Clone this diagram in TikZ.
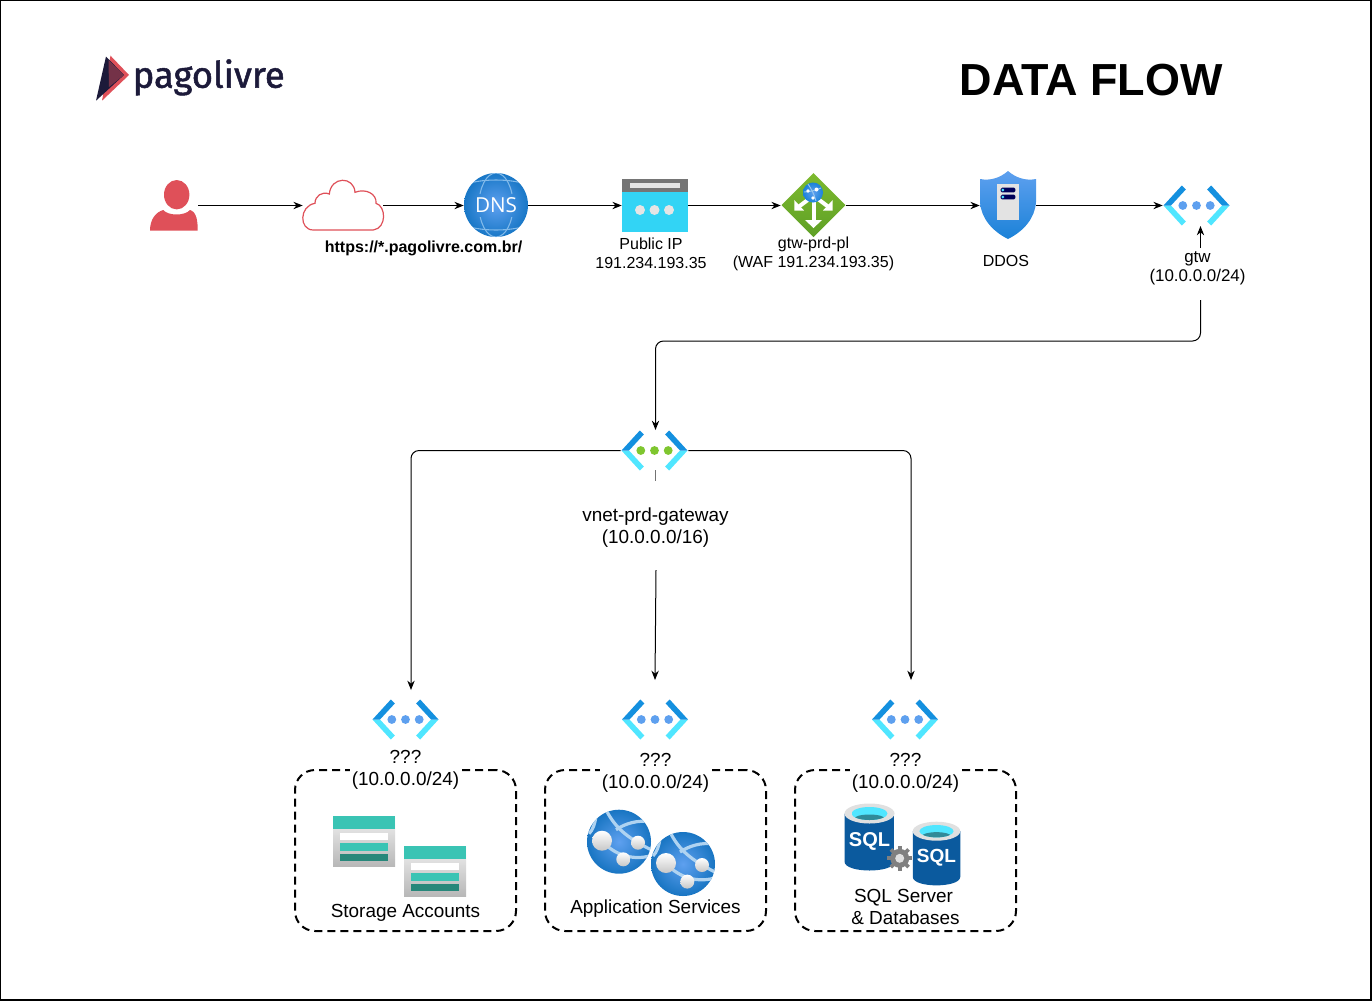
\documentclass[tikz,border=0pt]{standalone}
\usepackage{fontspec}
\setmainfont{Liberation Sans}
\newfontfamily\logofont[FakeBold=1.4]{Fira Sans}
\newfontfamily\dnsfont{Open Sans}
\usetikzlibrary{arrows.meta, shadings}

\definecolor{azdark}{HTML}{1490DF}
\definecolor{azcyan}{HTML}{50E6FF}
\definecolor{azsky}{HTML}{32D4F5}
\definecolor{azdot}{HTML}{5EA0EF}
\definecolor{azgreen}{HTML}{7FC62F}
\definecolor{azblue}{HTML}{1B82D8}
\definecolor{sqlmid}{HTML}{0A78D0}
\definecolor{sqlside}{HTML}{0B5A9E}
\definecolor{wafhigh}{HTML}{7DBA2E}
\definecolor{waflow}{HTML}{5FA026}
\definecolor{redmark}{HTML}{DF5059}
\definecolor{navylogo}{HTML}{1C1A3A}
\definecolor{tealbar}{HTML}{3AC4B4}
\definecolor{tealdark}{HTML}{27877A}

\tikzset{
    flow/.style={draw=black, line width=0.75pt, -{Stealth[length=7pt,width=5.5pt]}},
    iconbox/.style 2 args={inner sep=0pt, minimum width=#1*0.75pt, minimum height=#2*0.75pt},
    subnetbox/.style={iconbox={221}{161}, draw=black, line width=1.5pt, rounded corners=15pt, dash pattern=on 6pt off 3.75pt},
    smalltxt/.style={align=center, inner sep=0pt, font=\fontsize{12}{14.25}\selectfont},
    gtwtxt/.style={align=center, inner sep=0pt, font=\fontsize{12.7}{14.25}\selectfont},
    bigtxt/.style={align=center, inner sep=0pt, font=\fontsize{14.2}{16.5}\selectfont},
    pics/vnet/.style={code={
        \foreach \s in {-1,1} {
            \fill[azcyan] (\s*33,0) -- (\s*14.7,20) -- (\s*10.7,16) -- (\s*25.5,0) -- cycle;
            \fill[azdark] (\s*33,0) -- (\s*14.7,-20) -- (\s*10.7,-16) -- (\s*25.5,0) -- cycle;
        }
        \foreach \s in {-13.7,0,13.7} \fill[#1] (\s,0) circle[radius=4.4];
    }},
    pics/storage/.style={code={
        \shade[top color=white!94!black, bottom color=black!28] (-31,-25) rectangle (31,25);
        \fill[tealbar] (-31,-25) rectangle (31,-12);
        \fill[white] (-24,-8) rectangle (24,-1);
        \fill[tealbar] (-24,2) rectangle (24,10);
        \fill[tealdark] (-24,13) rectangle (24,20);
    }},
    pics/webapp/.style={code={
        \begin{scope}
            \clip (0,0) circle[radius=32];
            \shade[inner color=azdot, outer color=azblue!90!black] (0,0) circle[radius=32];
            \draw[white!65!azblue, line width=2.4pt] (-13,-32) .. controls (-4,-14) and (8,-4) .. (32,8);
            \draw[white!65!azblue, line width=2.4pt] (-3,-12) .. controls (6,-18) and (18,-22) .. (32,-20);
            \draw[white!65!azblue, line width=2.4pt] (-17,-1) .. controls (-8,10) and (10,20) .. (32,14);
            \draw[white!65!azblue, line width=2.4pt] (-23,-26) .. controls (-24,-18) and (-26,-12) .. (-30,-8);
        \end{scope}
        \shade[top color=white, bottom color=black!22] (-17,-1) circle[radius=10];
        \shade[top color=white, bottom color=black!22] (19,1) circle[radius=7];
        \shade[top color=white, bottom color=black!22] (4.3,17.6) circle[radius=7];
    }},
    pics/sqldb/.style={code={
        \shade[left color=sqlside, middle color=sqlmid, right color=sqlside]
            (-25,-24) -- (-25,24) .. controls (-25,36) and (25,36) .. (25,24) -- (25,-24) -- cycle;
        \fill[black!12] (0,-24) circle[x radius=25, y radius=10];
        \begin{scope}
            \clip (0,-24) circle[x radius=18, y radius=6.5];
            \fill[azcyan] (-18,-31) rectangle (18,-17);
            \fill[azcyan!60!black] (0,-19) circle[x radius=15, y radius=4];
        \end{scope}
        \node[text=white, inner sep=0pt, font=\fontsize{15}{16}\selectfont\bfseries, transform shape] (sqlmark) at (0,4) {SQL};
    }},
}

\begin{document}
\begin{tikzpicture}[x=0.75pt, y=-0.75pt]
        \useasboundingbox (0,0) rectangle (1372,1001);
        \fill[white] (0,0) rectangle (1372,1001);
        \draw[black, line width=0.9pt] (0.6,0.6) rectangle (1371,1000);

        % logo and title
        \fill[redmark] (110.5,55.7) -- (129,75) -- (102,100.7) -- cycle;
        \fill[navylogo] (106,56.5) -- (124,75) -- (96,100.7) -- cycle;
        \fill[redmark!45!navylogo] (108.5,60) -- (124,75) -- (109,87) -- cycle;
        \node[anchor=base west, inner sep=0pt, text=navylogo, font=\logofont\fontsize{27.3}{30}\selectfont] (logotxt) at (132.5,87.7) {pagolivre};
        \node[inner sep=0pt, font=\fontsize{33.7}{36}\selectfont\bfseries] (title) at (1091,80) {DATA FLOW};

        \node[iconbox={48}{51}] (user) at (174,205.5) {};
        \node[iconbox={80}{49}] (cloud) at (343,205.5) {};
        \node[iconbox={64}{64}] (dns) at (496,205.5) {};
        \node[iconbox={66}{53}] (pip) at (655,205.5) {};
        \node[iconbox={65}{64}] (waf) at (813.5,205.5) {};
        \node[iconbox={56}{68}] (ddos) at (1008,205.5) {};
        \node[iconbox={67}{40}] (gtw) at (1196.5,205.5) {};
        \node[iconbox={67}{40}] (vnetmain) at (654.5,450.5) {};
        \node[iconbox={67}{40}] (vnetstorage) at (405.5,719.5) {};
        \node[iconbox={67}{40}] (vnetapp) at (655,719.5) {};
        \node[iconbox={67}{40}] (vnetsql) at (905,719.5) {};

        % user
        \fill[redmark] (176.7,194.7) circle[x radius=12.7, y radius=14.7];
        \fill[redmark] (150,230.7) .. controls (150,219) and (156,212) .. (163.3,210)
            .. controls (168,216) and (185,216) .. (190,210)
            .. controls (197,212) and (197.7,222) .. (197.7,230.7) -- cycle;

        % cloud
        \draw[redmark, line width=0.9pt] (313.3,230) .. controls (299,230) and (299,206) .. (315,203.3)
            .. controls (315,196) and (322,191) .. (329.3,194)
            .. controls (331,176) and (354,176) .. (355,192.3)
            .. controls (366,188) and (377,194) .. (376,203.3)
            .. controls (386,206) and (387,228) .. (373.3,230) -- cycle;

        % dns
        \begin{scope}
            \clip (496,205) circle[radius=32];
            \shade[inner color=azdot, outer color=azblue!92!black] (496,205) circle[radius=32];
            \foreach \ya/\yb in {170/193,217/240} {
                \begin{scope}
                    \clip (460,\ya) rectangle (532,\yb);
                    \draw[white!45!azblue, line width=0.8pt] (496,205) circle[x radius=17, y radius=32];
                    \draw[white!45!azblue, line width=0.8pt] (460,186) .. controls (480,178) and (512,178) .. (532,186);
                    \draw[white!45!azblue, line width=0.8pt] (460,224) .. controls (480,232) and (512,232) .. (532,224);
                \end{scope}
            }
        \end{scope}
        \node[text=white, inner sep=0pt, font=\dnsfont\fontsize{15.5}{17}\selectfont] (dnstxt) at (496,205) {DNS};

        % public ip
        \fill[black!54] (622,179) rectangle (688,192);
        \fill[black!10] (630,183) rectangle (680,188);
        \fill[azsky] (622,192) rectangle (688,232);
        \foreach \x in {640,654.5,669} \fill[white!90!black] (\x,210) circle[radius=5];

        % waf
        \shade[top color=wafhigh, bottom color=waflow] (813.5,173) -- (845.5,205) -- (813.5,237) -- (781.5,205) -- cycle;
        \draw[white, line width=3pt] (813.5,200) -- (813.5,221);
        \fill[white] (805,220) -- (822,220) -- (813.5,228) -- cycle;
        \draw[white, line width=3pt] (809,199) -- (797,208);
        \fill[white] (794.3,200) -- (794.3,210.5) -- (804,210.5) -- cycle;
        \draw[white, line width=3pt] (818,199) -- (830,208);
        \fill[white] (832.7,200) -- (832.7,210.5) -- (823,210.5) -- cycle;
        \shade[inner color=azdot, outer color=azblue] (813,192.5) circle[radius=10];
        \draw[white!55!azblue, line width=0.7pt] (808,184) .. controls (812,190) and (814,194) .. (816,201);
        \draw[white!55!azblue, line width=0.7pt] (804,192) .. controls (810,192) and (816,190) .. (821,188);
        \fill[white] (816.5,189.5) circle[radius=2];
        \fill[white] (808,191) circle[radius=1.8];
        \fill[white] (813,198) circle[radius=1.8];

        % ddos
        \shade[top color=azdot, bottom color=azblue] (1008,171) .. controls (1000,178) and (990,181) .. (980,179)
            -- (980,202) .. controls (981,218) and (992,231) .. (1008,239)
            .. controls (1024,231) and (1035,218) .. (1036,202) -- (1036,179)
            .. controls (1026,181) and (1016,178) .. (1008,171) -- cycle;
        \fill[black!11] (997.3,184) rectangle (1018.7,220);
        \foreach \y in {190,197} {
            \fill[blue!35!black, rounded corners=1pt] (1000.7,\y-2.3) rectangle (1015.3,\y+2.3);
            \fill[azcyan] (1002.8,\y) circle[radius=1.5];
        }

        % vnets
        \pic at (gtw) {vnet=azdot};
        \pic at (vnetmain) {vnet=azgreen};
        \pic at (vnetstorage) {vnet=azdot};
        \pic at (vnetapp) {vnet=azdot};
        \pic at (vnetsql) {vnet=azdot};

        \node[subnetbox] (storagebox) at (405.5,850.5) {};
        \node[subnetbox] (appbox) at (655.5,850.5) {};
        \node[subnetbox] (sqlbox) at (905.5,850.5) {};

        \pic at (364,841) {storage};
        \pic at (435,871) {storage};
        \pic at (619,841.7) {webapp};
        \pic at (683,864) {webapp};
        \pic at (869.5,837.5) {sqldb};
        \foreach \a in {0,45,...,315} \draw[black!50, line width=2.8pt] (899.7,858.3) -- ++(\a:12.5);
        \fill[black!50] (899.7,858.3) circle[radius=9.5];
        \fill[black!12] (899.7,858.3) circle[radius=4.5];
        \pic[scale=0.95] at (936.5,854) {sqldb};

        % labels
        \node[inner sep=0pt, font=\fontsize{12}{14}\selectfont\bfseries] (urltxt) at (423.5,248) {https://*.pagolivre.com.br/};
        \node[smalltxt] (piptxt) at (651,253.5) {Public IP\\191.234.193.35};
        \node[smalltxt] (waftxt) at (813.5,253.5) {gtw-prd-pl\\(WAF 191.234.193.35)};
        \node[smalltxt] (ddostxt) at (1006,261) {DDOS};
        \node[gtwtxt] (gtwtxt) at (1197.5,268) {gtw\\(10.0.0.0/24)};
        \node[bigtxt] (vnettxt) at (655.5,528) {vnet-prd-gateway\\(10.0.0.0/16)};
        \node[bigtxt, fill=white, inner xsep=1.5pt] (storagetxt) at (405.5,770) {???\\(10.0.0.0/24)};
        \node[bigtxt, fill=white, inner xsep=1.5pt] (apptxt) at (655.5,773) {???\\(10.0.0.0/24)};
        \node[bigtxt, fill=white, inner xsep=1.5pt] (sqltxt) at (905.5,773) {???\\(10.0.0.0/24)};
        \node[bigtxt] (storagename) at (405.5,913) {Storage Accounts};
        \node[bigtxt] (appname) at (655.5,909) {Application Services};
        \node[bigtxt] (sqlname) at (903.5,907) {SQL Server\\\hspace*{3pt}\& Databases};

        % connectors
        \coordinate (gtwin) at (1200.5,248);
        \coordinate (gtwtop) at (1200.5,226);
        \coordinate (gtwout) at (1200.5,300);
        \coordinate (bus) at (655.5,341);
        \coordinate (vnetin) at (655.5,430);
        \coordinate (tickend) at (655.5,481);
        \coordinate (tickstart) at (655.5,470);
        \coordinate (leftdrop) at (411,690);
        \coordinate (rightdrop) at (911,680);
        \coordinate (middrop) at (655,680);
        \coordinate (midout) at (656,570);

        \draw[flow] (user) -- (cloud);
        \draw[flow] (cloud) -- (dns);
        \draw[flow] (dns) -- (pip);
        \draw[flow] (pip) -- (waf);
        \draw[flow] (waf) -- (ddos);
        \draw[flow] (ddos) -- (gtw);
        \draw[flow] (gtwin) -- (gtwtop);
        \draw[flow, rounded corners=6pt] (gtwout) |- (bus) -- (vnetin);
        \draw[black!55, line width=1pt] (tickstart) -- (tickend);
        \draw[flow, rounded corners=6pt] (vnetmain.west) -| (leftdrop);
        \draw[flow, rounded corners=6pt] (vnetmain.east) -| (rightdrop);
        \draw[flow] (midout) -- (middrop);
\end{tikzpicture}
\end{document}
